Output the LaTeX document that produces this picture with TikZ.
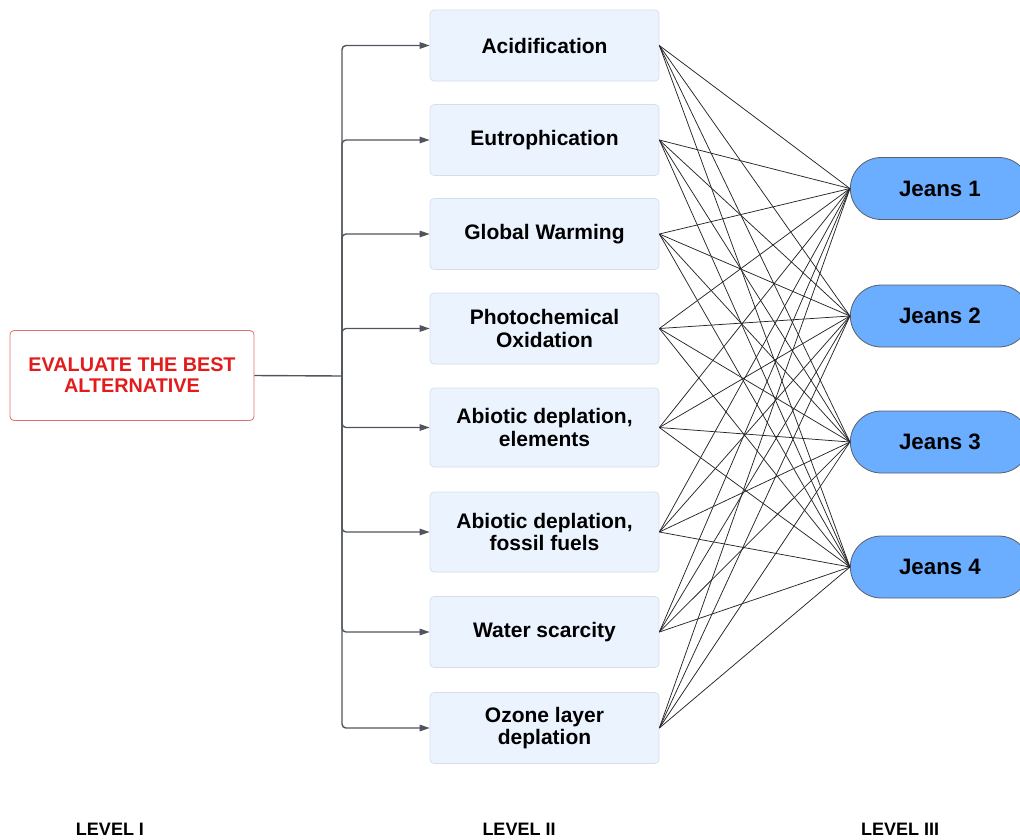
\documentclass[tikz,border=0pt]{standalone}
\usepackage{fontspec}
\setmainfont{Liberation Sans}
\usetikzlibrary{arrows.meta,shapes.misc}

\definecolor{critfill}{RGB}{235,243,254}
\definecolor{critline}{RGB}{212,222,236}
\definecolor{goalline}{RGB}{226,110,110}
\definecolor{goaltext}{RGB}{226,28,28}
\definecolor{altfill}{RGB}{107,173,255}
\definecolor{altline}{RGB}{90,95,105}
\definecolor{busgray}{RGB}{80,84,92}

\tikzset{
  goalbox/.style={draw=goalline, fill=white, rounded corners=4pt, line width=0.8pt,
    minimum width=244pt, minimum height=90pt, align=center,
    font=\fontsize{19.8pt}{21pt}\selectfont\bfseries, text=goaltext},
  critbox/.style={draw=critline, fill=critfill, rounded corners=4pt, line width=0.7pt,
    minimum width=229pt, align=center,
    font=\fontsize{21pt}{22.5pt}\selectfont\bfseries, text=black},
  altbox/.style={draw=altline, fill=altfill, rounded rectangle, line width=0.8pt,
    minimum width=186pt, minimum height=62pt,
    font=\fontsize{22.3pt}{24pt}\selectfont\bfseries, text=black},
  busline/.style={draw=busgray, line width=1.4pt, rounded corners=4pt,
    -{Triangle[length=10pt,width=6.5pt]}},
  link/.style={draw=black!85, line width=0.75pt},
  levellabel/.style={font=\fontsize{18pt}{20pt}\selectfont\bfseries, text=black}
}

\begin{document}
\begin{tikzpicture}[x=1pt,y=-1pt]
  \useasboundingbox (0,0) rectangle (1020,839);
  \clip (0,0) rectangle (1020,839);

  % goal
  \node[goalbox] (goal) at (132,375.5) {EVALUATE THE BEST\\ALTERNATIVE};

  % criteria
  \node[critbox, minimum height=71pt] (c1) at (544.5,45.5) {Acidification};
  \node[critbox, minimum height=71pt] (c2) at (544.5,140) {Eutrophication};
  \node[critbox, minimum height=71pt] (c3) at (544.5,234) {Global Warming};
  \node[critbox, minimum height=71pt] (c4) at (544.5,328.5) {Photochemical\\Oxidation};
  \node[critbox, minimum height=79pt] (c5) at (544.5,427.5) {Abiotic deplation,\\elements};
  \node[critbox, minimum height=80pt] (c6) at (544.5,532) {Abiotic deplation,\\fossil fuels};
  \node[critbox, minimum height=71pt] (c7) at (544.5,632) {Water scarcity};
  \node[critbox, minimum height=71pt] (c8) at (544.5,728) {Ozone layer\\deplation};

  % alternatives
  \node[altbox] (j1) at (940,188.5) {Jeans 1};
  \node[altbox] (j2) at (940,316) {Jeans 2};
  \node[altbox] (j3) at (940,442) {Jeans 3};
  \node[altbox] (j4) at (940,567) {Jeans 4};

  % goal to criteria through the bus
  \coordinate (bus) at (342,376);
  \draw[draw=busgray, line width=1.4pt] (goal.east) -- (bus);
  \foreach \c in {c1,c2,c3,c4,c5,c6,c7,c8}
    \draw[busline] (bus) |- (\c.west);

  % criteria to alternatives
  \foreach \c in {c1,c2,c3,c4,c5,c6,c7,c8}
    \foreach \j in {j1,j2,j3,j4}
      \draw[link] (\c.east) -- (\j.west);

  % level captions
  \node[levellabel] (l1) at (110,829) {LEVEL I};
  \node[levellabel] (l2) at (519,829) {LEVEL II};
  \node[levellabel] (l3) at (900,829) {LEVEL III};
\end{tikzpicture}
\end{document}
